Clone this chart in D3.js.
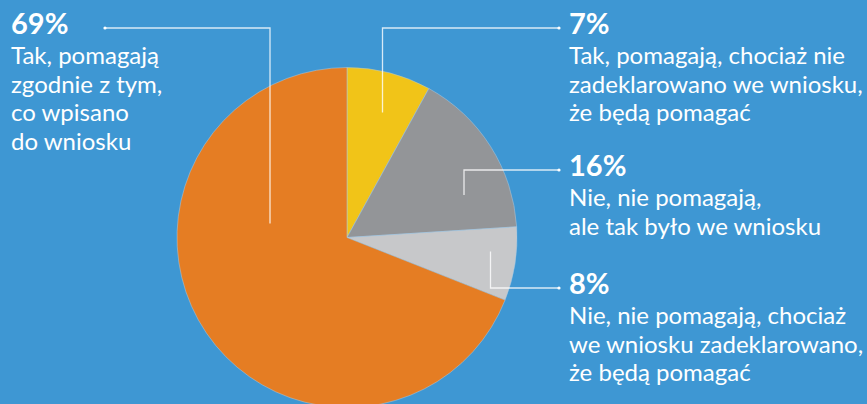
<!DOCTYPE html>
<html>
<head>
<meta charset="utf-8">
<script src="https://cdn.jsdelivr.net/npm/d3@7"></script>
<style>
  html, body { margin: 0; padding: 0; background: #3e97d3; }
  svg { display: block; font-family: Lato, "Open Sans", sans-serif; }
</style>
</head>
<body>
<main></main>
<script>
// slice order, clockwise from 12 o'clock
const sliceKeys = ["yellow", "gray", "lightgray", "orange"];
const sliceShares = [8, 16, 7, 69];
const sliceColors = ["#f1c418", "#939598", "#c7c8ca", "#e57d23"];

const pctLabels = ["69%", "7%", "16%", "8%"];
const labelLines = [
	["Tak, pomagają", "zgodnie z tym,", "co wpisano", "do wniosku"],
	["Tak, pomagają, chociaż nie", "zadeklarowano we wniosku,", "że będą pomagać"],
	["Nie, nie pomagają,", "ale tak było we wniosku"],
	["Nie, nie pomagają, chociaż", "we wniosku zadeklarowano,", "że będą pomagać"]
];

const w = 867, h = 404,
	cx = 347, cy = 237.5, radius = 170;

// label blocks: text anchor, leader start, elbow, inner point (offset from pie centre)
const layout = [
	{x: 11, y: 34, dotX: 105, elbowX: 270, inner: [-77, -14]},
	{x: 569, y: 34, dotX: 559, elbowX: 382.5, inner: [35.5, -125]},
	{x: 569, y: 176, dotX: 559, elbowX: 464, inner: [117, -42.5]},
	{x: 569, y: 294, dotX: 559, elbowX: 490.5, inner: [143.5, 14]}
];

const svg = d3.select("main")
	.append("svg")
	.attr("width", w)
	.attr("height", h);

svg.append("rect")
	.attr("width", w)
	.attr("height", h)
	.attr("fill", "#3e97d3");

const pie = d3.pie()
	.sort(null)
	.value((d) => d);

const arc = d3.arc()
	.innerRadius(0)
	.outerRadius(radius);

const g = svg.append("g")
	.attr("transform", "translate(" + cx + "," + cy + ")");

g.selectAll("path")
	.data(pie(sliceShares))
	.enter()
	.append("path")
	.attr("d", arc)
	.attr("fill", (d, i) => sliceColors[i])
	.attr("stroke", "#a9cbe4")
	.attr("stroke-width", 0.5);

// leader lines
layout.forEach((l, i) => {
	const lineY = l.y - 6;
	const iy = cy + l.inner[1];
	svg.append("path")
		.attr("d", "M" + l.dotX + "," + lineY + "H" + l.elbowX + "V" + iy)
		.attr("fill", "none")
		.attr("stroke", "#ffffff")
		.attr("stroke-opacity", 0.8)
		.attr("stroke-width", 1.3);
	svg.append("circle")
		.attr("cx", l.dotX)
		.attr("cy", lineY)
		.attr("r", 1.6)
		.attr("fill", "#ffffff");
});

// labels
layout.forEach((l, i) => {
	const t = svg.append("text")
		.attr("x", l.x)
		.attr("y", l.y)
		.attr("fill", "#ffffff");
	t.append("tspan")
		.attr("x", l.x)
		.attr("font-size", "29px")
		.attr("font-weight", "bold")
		.text(pctLabels[i]);
	labelLines[i].forEach((line, j) => {
		t.append("tspan")
			.attr("x", l.x)
			.attr("dy", j === 0 ? 30 : 28.7)
			.attr("font-size", "24px")
			.text(line);
	});
});
</script>
</body>
</html>
